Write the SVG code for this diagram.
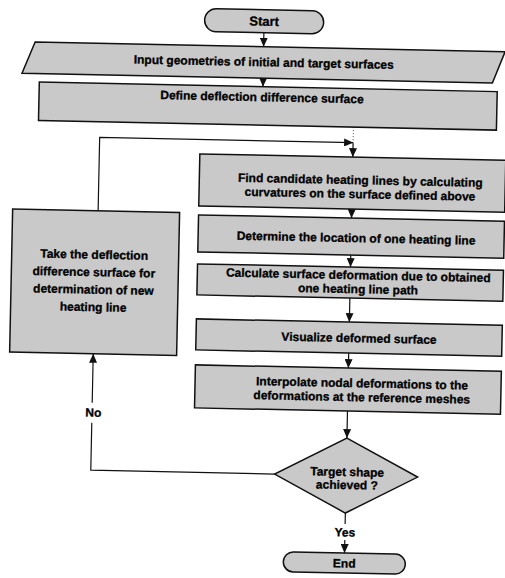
<svg xmlns="http://www.w3.org/2000/svg" width="505" height="578" viewBox="0 0 505 578">
<style>
.box{fill:#c9c9c9;stroke:#111;stroke-width:1.5}
.t{font-family:"Liberation Sans",Arial,sans-serif;font-weight:bold;font-size:12px;text-anchor:middle;fill:#000;stroke:#000;stroke-width:0.3}
.c{fill:none;stroke:#111;stroke-width:1.2}
.d{fill:none;stroke:#555;stroke-width:1;stroke-dasharray:1 2}
</style>
<defs>
<marker id="ah" markerUnits="userSpaceOnUse" markerWidth="9" markerHeight="8" refX="9" refY="4" orient="auto">
<path d="M0,0 L9,4 L0,8 z" fill="#111"/>
</marker>
</defs>
<rect width="505" height="578" fill="#fff"/>
<g transform="rotate(1.2 250 290)">
<g id="connectors">
<line class="c" x1="258.5" y1="32.5" x2="258.5" y2="46.5" marker-end="url(#ah)"/>
<line class="c" x1="258.7" y1="78" x2="258.7" y2="86.5" marker-end="url(#ah)"/>
<line class="d" x1="350" y1="125" x2="350" y2="141"/>
<line class="c" x1="350" y1="141" x2="350" y2="155" marker-end="url(#ah)"/>
<polyline class="c" points="96.5,214 96.5,140.5 350,140.5" marker-end="url(#ah)"/>
<line class="c" x1="350" y1="207" x2="350" y2="216" marker-end="url(#ah)"/>
<line class="c" x1="350" y1="253" x2="350" y2="265" marker-end="url(#ah)"/>
<line class="c" x1="350" y1="296" x2="350" y2="320" marker-end="url(#ah)"/>
<line class="c" x1="350" y1="351" x2="350" y2="366" marker-end="url(#ah)"/>
<line class="c" x1="350" y1="409" x2="350" y2="436" marker-end="url(#ah)"/>
<line class="c" x1="350" y1="511" x2="350" y2="522"/>
<line class="c" x1="350" y1="538" x2="350" y2="551" marker-end="url(#ah)"/>
<text class="t" x="350" y="534.5">Yes</text>
<polyline class="c" points="278.5,473.5 94.6,473.5 94.6,426"/>
<line class="c" x1="94.6" y1="406" x2="94.6" y2="357" marker-end="url(#ah)"/>
<text class="t" x="96" y="420">No</text>
</g>
<g id="start">
<rect class="box" x="199" y="9.5" width="119" height="23" rx="11.5"/>
<text class="t" x="258.5" y="25.5" style="font-size:13px">Start</text>
</g>
<g id="input">
<polygon class="box" points="30,46.5 500,46.5 488,78 17.5,78"/>
<text class="t" x="259" y="66">Input geometries of initial and target surfaces</text>
</g>
<g id="define">
<rect class="box" x="35" y="86.5" width="458" height="38.5"/>
<text class="t" x="258" y="101">Define deflection difference surface</text>
</g>
<g id="find">
<rect class="box" x="197" y="155" width="306" height="52"/>
<text class="t" x="358" y="182">Find candidate heating lines by calculating</text>
<text class="t" x="358" y="196">curvatures on the surface defined above</text>
</g>
<g id="determine">
<rect class="box" x="197" y="216" width="306" height="37"/>
<text class="t" x="355" y="240">Determine the location of one heating line</text>
</g>
<g id="calculate">
<rect class="box" x="197" y="265" width="306" height="31"/>
<text class="t" x="358" y="277">Calculate surface deformation due to obtained</text>
<text class="t" x="358" y="291">one heating line path</text>
</g>
<g id="visualize">
<rect class="box" x="197" y="320" width="306" height="31"/>
<text class="t" x="360" y="340">Visualize deformed surface</text>
</g>
<g id="interpolate">
<rect class="box" x="197" y="366" width="306" height="43"/>
<text class="t" x="364" y="385">Interpolate nodal deformations to the</text>
<text class="t" x="364" y="399">deformations at the reference meshes</text>
</g>
<g id="decision">
<polygon class="box" points="350,436 421.5,473.5 350,511 278.5,473.5"/>
<text class="t" x="351" y="474">Target shape</text>
<text class="t" x="351" y="487">achieved ?</text>
</g>
<g id="takebox">
<rect class="box" x="11" y="214" width="167" height="143"/>
<text class="t" x="93.5" y="262">Take the deflection</text>
<text class="t" x="93.5" y="279.5">difference surface for</text>
<text class="t" x="93.5" y="297">determination of new</text>
<text class="t" x="93.5" y="314.5">heating line</text>
</g>
<g id="end">
<rect class="box" x="289" y="551" width="122" height="20" rx="10"/>
<text class="t" x="350" y="565.5">End</text>
</g>
</g>
</svg>
